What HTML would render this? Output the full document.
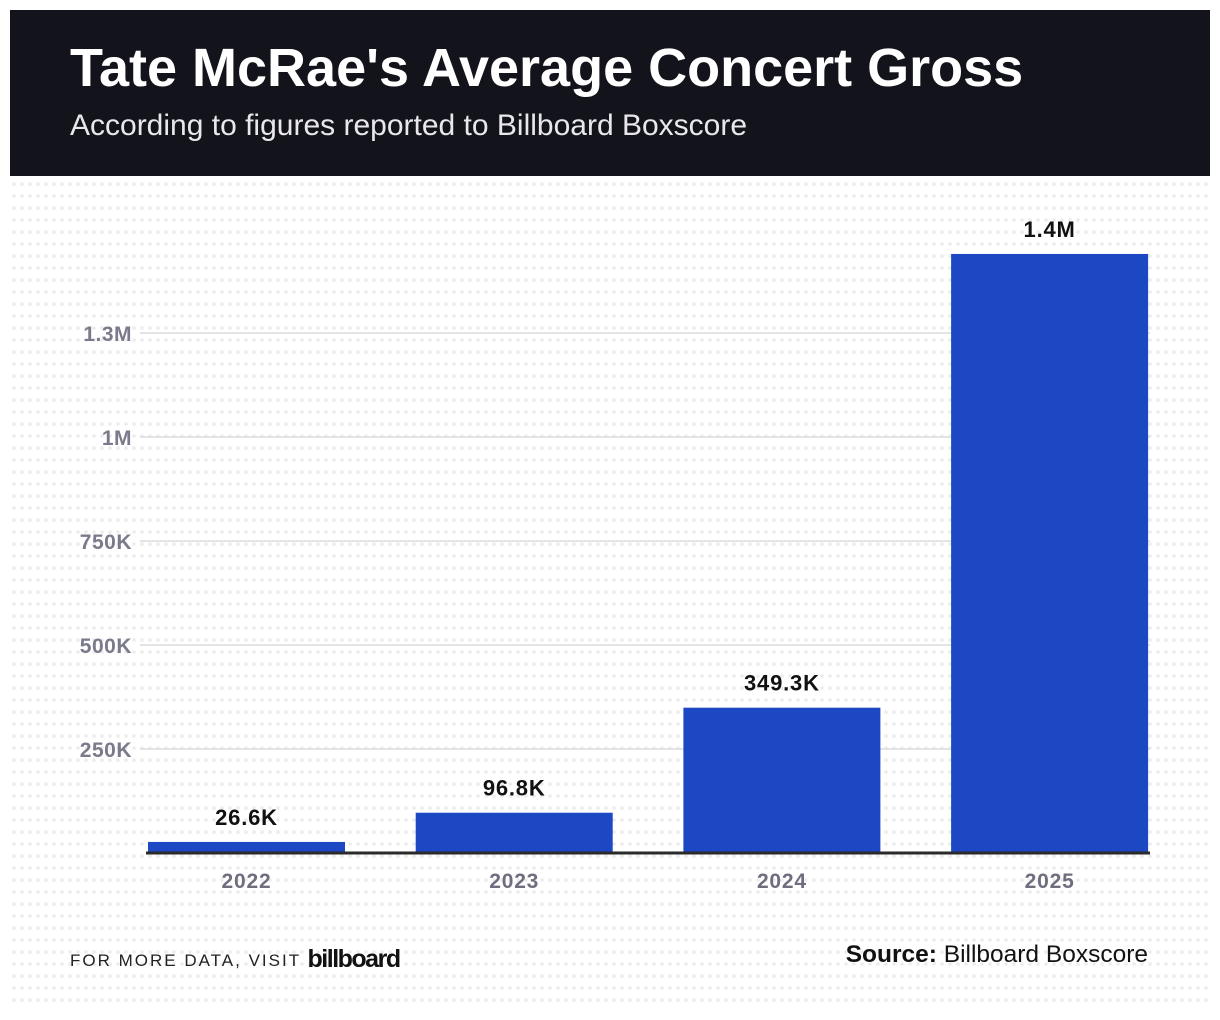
<!DOCTYPE html>
<html><head><meta charset="utf-8"><style>
body{margin:0;width:1220px;height:1020px;background:#fff;overflow:hidden;font-family:"Liberation Sans",sans-serif}
#bg{position:absolute;left:0;top:0}
#hdr{position:absolute;left:10px;top:10px;width:1200px;height:166px;background:#13131c}
h1{position:absolute;left:60px;top:27px;margin:0;color:#fff;font-size:54px;font-weight:bold;letter-spacing:0}
.sub{position:absolute;left:60px;top:99px;color:#e8e8ec;font-size:30px}
.foot{position:absolute;top:945px;font-size:17px;letter-spacing:2px;color:#222}
</style></head><body>
<svg id="bg" width="1220" height="1020"></svg>
<div id="hdr">
<h1>Tate McRae's Average Concert Gross</h1>
<div class="sub">According to figures reported to Billboard Boxscore</div>
</div>
<svg id="chart" width="1220" height="1020" style="position:absolute;left:0;top:0"></svg>
<div class="foot" style="left:70px">FOR MORE DATA, VISIT <b style="font-size:25px;letter-spacing:-1.5px;color:#111;vertical-align:-1px;font-weight:900">billboard</b></div>
<div class="foot" style="right:72px;top:941px;font-size:24.5px;letter-spacing:0;color:#111"><b>Source:</b> Billboard Boxscore</div>
<script>
const categories=["2022","2023","2024","2025"];
const values=[26600,96800,349300,1440000];
const valueLabels=["26.6K","96.8K","349.3K","1.4M"];
const tickValues=[250000,500000,750000,1000000,1250000];
const tickLabels=["250K","500K","750K","1M","1.3M"];
const NS="http://www.w3.org/2000/svg";
function mk(p,t,a){const e=document.createElementNS(NS,t);for(const k in a)e.setAttribute(k,a[k]);p.appendChild(e);return e;}
const bg=document.getElementById('bg');
for(let y=184;y<1010;y+=12)for(let x=14;x<1210;x+=8){const c=mk(bg,'circle',{cx:x,cy:y,r:1.8,fill:'#ececec'});}
const svg=document.getElementById('chart');
const y0=853,pxPer=104/250000;
const yS=v=>y0-v*pxPer;
const xS=i=>148+i*267.7;
const bw=197;
tickValues.forEach((v,i)=>{
 const l=mk(svg,'line',{x1:140,x2:1150,y1:yS(v),y2:yS(v),stroke:'#dcdcdc','stroke-width':1.5});
 
 
 const t=mk(svg,'text',{x:132,y:yS(v)+8,'text-anchor':'end','font-size':21,'font-weight':'bold',fill:'#7a7a8a','letter-spacing':0.5});
 t.textContent=tickLabels[i];
 
 
});
values.forEach((v,i)=>{
 const r=mk(svg,'rect',{x:xS(i),y:yS(v),width:bw,height:y0-yS(v),fill:'#1c48c4'});
 
 
 const t=mk(svg,'text',{x:xS(i)+bw/2,y:yS(v)-17,'text-anchor':'middle','font-size':22,'font-weight':'bold',fill:'#111','letter-spacing':0.8});
 t.textContent=valueLabels[i];
 
 
 const c=mk(svg,'text',{x:xS(i)+bw/2,y:888,'text-anchor':'middle','font-size':21,'font-weight':'bold',fill:'#6e6e7e','letter-spacing':0.8});
 c.textContent=categories[i];
 
 
});
const b=mk(svg,'line',{x1:146,x2:1150,y1:y0,y2:y0,stroke:'#2a2a2a','stroke-width':3});


</script>
</body></html>
